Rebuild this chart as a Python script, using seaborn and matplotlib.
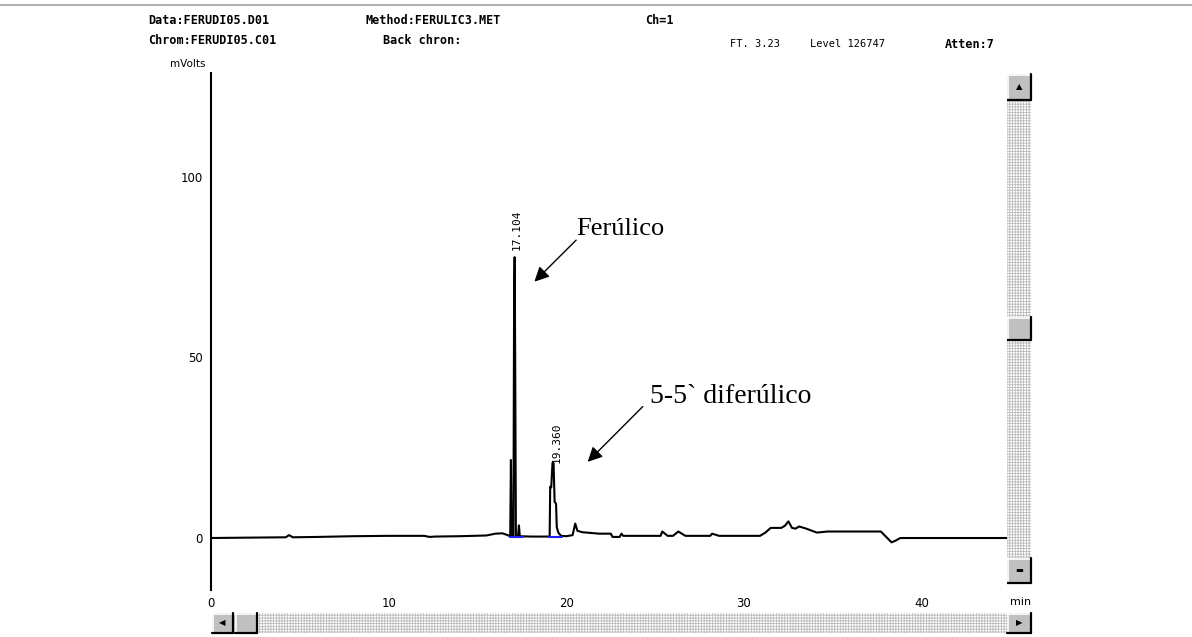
import numpy as np
import pandas as pd
import matplotlib
matplotlib.use("Agg")
import matplotlib.pyplot as plt
import seaborn as sns
from matplotlib.patches import Rectangle

# ---------------- data ----------------
time_min = [0.0, 2.0, 4.2, 4.4, 4.6, 6.0, 8.0, 10.0, 12.0, 12.3, 12.6, 14.0,
            15.5, 16.0, 16.4, 16.7, 16.84, 16.88, 16.92, 17.02, 17.06, 17.09,
            17.12, 17.16, 17.28, 17.33, 17.38, 18.0, 19.06, 19.09, 19.15, 19.22,
            19.28, 19.34, 19.42, 19.46, 19.55, 19.70, 20.0, 20.35, 20.5, 20.62,
            20.9, 21.86, 22.5, 22.6, 23.0, 23.1, 23.2, 25.3, 25.4, 25.7, 26.0,
            26.3, 26.7, 28.1, 28.2, 28.6, 30.9, 31.2, 31.5, 32.1, 32.3, 32.5,
            32.7, 32.9, 33.1, 33.5, 34.1, 34.7, 37.7, 37.9, 38.3, 38.5, 38.8, 44.8]
signal_mv = [0.0, 0.1, 0.2, 0.8, 0.2, 0.3, 0.5, 0.6, 0.6, 0.3, 0.4, 0.5,
             0.7, 1.2, 1.3, 0.8, 0.4, 21.6, 0.4, 0.4, 68.0, 77.8,
             50.0, 0.6, 0.5, 3.5, 0.5, 0.4, 0.4, 14.2, 14.0, 20.8,
             20.8, 10.0, 9.5, 3.0, 1.5, 0.6, 0.5, 0.8, 4.0, 2.0,
             1.6, 1.2, 1.2, 0.3, 0.3, 1.2, 0.6, 0.6, 1.8, 0.6, 0.6,
             1.8, 0.6, 0.6, 1.2, 0.6, 0.6, 1.5, 2.8, 2.8, 3.4, 4.6,
             2.8, 2.6, 3.2, 2.6, 1.5, 1.8, 1.8, 0.8, -1.2, -0.8, 0.0, 0.0]

integ1_t = [16.80, 17.55]
integ1_y = [0.35, 0.35]
integ2_t = [19.05, 19.75]
integ2_y = [0.35, 0.35]

peak_rt = [17.104, 19.360]
peak_top = [77.8, 20.8]
peak_labels = ["17.104", "19.360"]

x_ticks = [0, 10, 20, 30, 40]
x_ticklabels = ["0", "10", "20", "30", "40"]
y_ticks = [0, 50, 100]
y_ticklabels = ["0", "50", "100"]

# ---------------- figure ----------------
W, H = 1192, 637
sns.set_style("white")
plt.rcParams['font.family'] = ['DejaVu Sans']
plt.rcParams['text.color'] = 'black'
plt.rcParams['hatch.linewidth'] = 0.6

fig = plt.figure(figsize=(W / 100, H / 100), dpi=100)
fig.patch.set_facecolor("white")

L, R, T, B = 211, 1007, 73, 590
ax = fig.add_axes([L / W, 1 - B / H, (R - L) / W, (B - T) / H])
ax.set_facecolor("white")

df = pd.DataFrame({"t": time_min, "mv": signal_mv})
sns.lineplot(data=df, x="t", y="mv", ax=ax, color="black", lw=1.5,
             estimator=None, sort=False, zorder=3)
sns.lineplot(x=integ1_t, y=integ1_y, ax=ax, color="#2020ff", lw=1.5, zorder=4)
sns.lineplot(x=integ2_t, y=integ2_y, ax=ax, color="#2020ff", lw=1.5, zorder=4)

ax.set_xlim(0, 44.8)
ax.set_ylim(-14.4, 128.8)
ax.set_xlabel("")
ax.set_ylabel("")
for s in ["top", "right", "bottom"]:
    ax.spines[s].set_visible(False)
ax.spines["left"].set_color("black")
ax.spines["left"].set_linewidth(1.5)

ax.set_xticks(x_ticks)
ax.set_xticklabels(x_ticklabels, fontsize=8.5)
ax.set_yticks(y_ticks)
ax.set_yticklabels(y_ticklabels, fontsize=8.5)
ax.tick_params(axis="x", length=4, width=1, direction="out", pad=1, colors="black")
ax.tick_params(axis="y", length=0, pad=6, colors="black")

# peak retention-time labels
for rt, top, lab in zip(peak_rt, peak_top, peak_labels):
    ax.annotate(lab, xy=(rt, top), xytext=(1, 5 if top > 50 else 0),
                textcoords="offset points", rotation=90, ha="center",
                va="bottom", fontsize=8, family="DejaVu Sans Mono",
                color="black")

# annotations
ax.text(20.56, 83.9, "Ferúlico", family="Liberation Serif", fontsize=19,
        ha="left", va="baseline", color="black")
ax.annotate("", xy=(18.2, 71.0), xytext=(20.55, 82.5),
            arrowprops=dict(arrowstyle="-|>", color="black", lw=1.0,
                            mutation_scale=22, shrinkA=0, shrinkB=0))
ax.text(24.7, 37.4, "5-5` diferúlico", family="Liberation Serif", fontsize=20,
        ha="left", va="baseline", color="black")
ax.annotate("", xy=(21.2, 21.1), xytext=(24.3, 36.4),
            arrowprops=dict(arrowstyle="-|>", color="black", lw=1.0,
                            mutation_scale=22, shrinkA=0, shrinkB=0))

# ---------------- window decorations (pixel overlay) ----------------
ov = fig.add_axes([0, 0, 1, 1], zorder=-1)
ov.set_xlim(0, W)
ov.set_ylim(H, 0)
ov.axis("off")
ov.patch.set_alpha(0)

ov.plot([0, W], [5, 5], color="#b0b0b0", lw=1.5)


def track(x0, y0, w, h):
    ov.add_patch(Rectangle((x0, y0), w, h, facecolor="white",
                           edgecolor="#bcbcbc", hatch="++++++", lw=0))


def button(x0, y0, w, h, glyph=None):
    ov.add_patch(Rectangle((x0, y0), w, h, facecolor="#c0c0c0",
                           edgecolor="none", zorder=3))
    ov.plot([x0, x0 + w], [y0 + 0.5, y0 + 0.5], color="white", lw=1.2, zorder=4)
    ov.plot([x0 + 0.5, x0 + 0.5], [y0, y0 + h], color="white", lw=1.2, zorder=4)
    ov.plot([x0, x0 + w], [y0 + h, y0 + h], color="black", lw=1.6, zorder=4)
    ov.plot([x0 + w, x0 + w], [y0, y0 + h], color="black", lw=1.6, zorder=4)
    if glyph:
        ov.text(x0 + w / 2, y0 + h / 2, glyph, ha="center", va="center",
                fontsize=6, color="black", zorder=5)


# vertical scrollbar
track(1007, 74, 24, 509)
button(1007, 74, 24, 26, "▲")
button(1007, 317, 24, 23)
button(1007, 558, 24, 25, "▬")
# horizontal scrollbar
track(212, 613, 819, 20)
button(212, 613, 21, 20, "◀")
button(235, 613, 22, 20)
button(1007, 613, 24, 20, "▶")

# header texts
mono = "DejaVu Sans Mono"
hdr = [
    (148, 21, "Data:FERUDI05.D01", "bold", 8.5),
    (365, 21, "Method:FERULIC3.MET", "bold", 8.5),
    (645, 21, "Ch=1", "bold", 8.5),
    (148, 41, "Chrom:FERUDI05.C01", "bold", 8.5),
    (383, 41, "Back chron:", "bold", 8.5),
    (730, 44, "FT. 3.23", "normal", 7.5),
    (810, 44, "Level 126747", "normal", 7.5),
    (945, 44, "Atten:7", "bold", 8.5),
]
for x, y, s, wt, fs in hdr:
    ov.text(x, y, s, ha="left", va="center", family=mono, fontweight=wt,
            fontsize=fs, color="black")
ov.text(170, 64, "mVolts", ha="left", va="center", fontsize=7.5, color="black")
ov.text(1010, 602, "min", ha="left", va="center", fontsize=8, color="black")

fig.savefig("out.png", dpi=100, facecolor="white")
